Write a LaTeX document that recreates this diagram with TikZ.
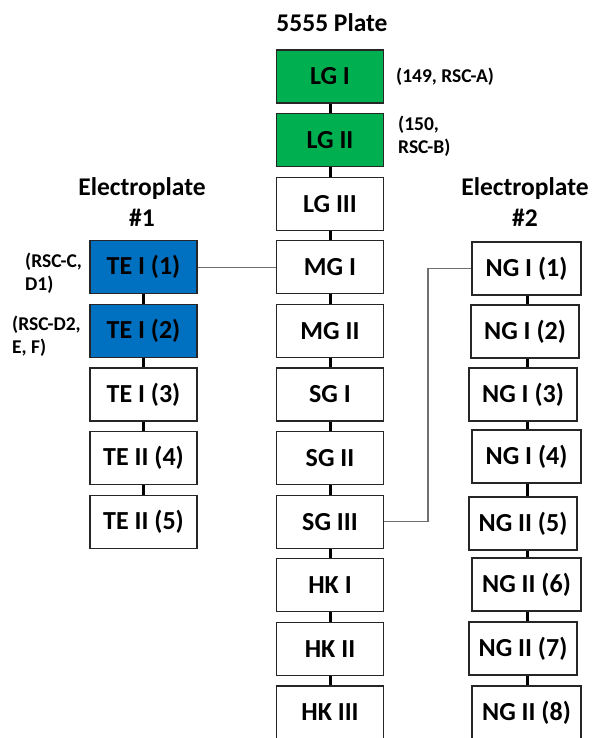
\documentclass[tikz,border=0pt]{standalone}
\usepackage{fontspec}
\setmainfont{Carlito}
\definecolor{boxgreen}{HTML}{00B050}
\definecolor{boxblue}{HTML}{0070C0}
\definecolor{thinline}{HTML}{707070}
\begin{document}
\begin{tikzpicture}[x=1pt,y=-1pt,
  box/.style={draw=black!85, line width=1.2pt, minimum width=107pt, minimum height=53pt, inner sep=0pt, font=\fontsize{26}{30}\selectfont\bfseries},
  gbox/.style={box, fill=boxgreen},
  bbox/.style={box, fill=boxblue},
  title/.style={font=\fontsize{25.5}{31}\selectfont\bfseries, align=center, inner sep=0pt},
  note/.style={font=\fontsize{19.5}{23}\selectfont\bfseries, align=left, inner sep=0pt, anchor=west},
  spine/.style={line width=3pt, black},
  link/.style={line width=1.1pt, thinline}]
\useasboundingbox (0,0) rectangle (593,738);
% titles
\node[title] (t0) at (332,23) {5555 Plate};
\node[title] (t1) at (142,202.5) {Electroplate\\\#1};
\node[title] (t2) at (525,202.5) {Electroplate\\\#2};
% center column
\node[gbox] (lg1) at (330,76.5) {LG I};
\node[gbox] (lg2) at (330,140.1) {LG II};
\node[box] (lg3) at (330,203.7) {LG III};
\node[box] (mg1) at (330,267.3) {MG I};
\node[box] (mg2) at (330,330.9) {MG II};
\node[box] (sg1) at (330,394.5) {SG I};
\node[box] (sg2) at (330,458.1) {SG II};
\node[box] (sg3) at (330,521.7) {SG III};
\node[box] (hk1) at (330,585.3) {HK I};
\node[box] (hk2) at (330,648.9) {HK II};
\node[box] (hk3) at (330,712.5) {HK III};
% left column
\node[bbox] (te1) at (143.5,267.3) {TE I (1)};
\node[bbox] (te2) at (143.5,330.9) {TE I (2)};
\node[box] (te3) at (143.5,394.5) {TE I (3)};
\node[box] (te4) at (143.5,458.1) {TE II (4)};
\node[box] (te5) at (143.5,521.7) {TE II (5)};
% right column
\node[box,minimum width=109pt] (ng1) at (526.5,268.5) {NG I (1)};
\node[box,minimum width=108pt] (ng2) at (525,331.5) {NG I (2)};
\node[box,minimum width=108pt] (ng3) at (523,394.5) {NG I (3)};
\node[box,minimum width=109pt] (ng4) at (526.5,456.5) {NG I (4)};
\node[box,minimum width=108pt] (ng5) at (523,523.5) {NG II (5)};
\node[box,minimum width=109pt] (ng6) at (526.5,584.5) {NG II (6)};
\node[box,minimum width=108pt] (ng7) at (523,648.5) {NG II (7)};
\node[box,minimum width=109pt] (ng8) at (526.5,712.5) {NG II (8)};
% notes
\node[note] (n1) at (396,77) {(149, RSC-A)};
\node[note] (n2) at (398,136.5) {(150,\\RSC-B)};
\node[note] (n3) at (25,273.5) {(RSC-C,\\D1)};
\node[note] (n4) at (12,336.5) {(RSC-D2,\\E, F)};
% spines
\foreach \a/\b in {lg1/lg2,lg2/lg3,lg3/mg1,mg1/mg2,mg2/sg1,sg1/sg2,sg2/sg3,sg3/hk1,hk1/hk2,hk2/hk3,
  te1/te2,te2/te3,te3/te4,te4/te5}
  \draw[spine] (\a.south) -- (\b.north);
\coordinate (rs) at (527,0);
\foreach \a/\b in {ng1/ng2,ng2/ng3,ng3/ng4,ng4/ng5,ng5/ng6,ng6/ng7,ng7/ng8}
  \draw[spine] (\a.south -| rs) -- (\b.north -| rs);
% links
\draw[link] (te1.east) -- (mg1.west);
\coordinate (bend) at (428,0);
\draw[link] (sg3.east) -- (sg3.east -| bend) |- (ng1.west);
\end{tikzpicture}
\end{document}
